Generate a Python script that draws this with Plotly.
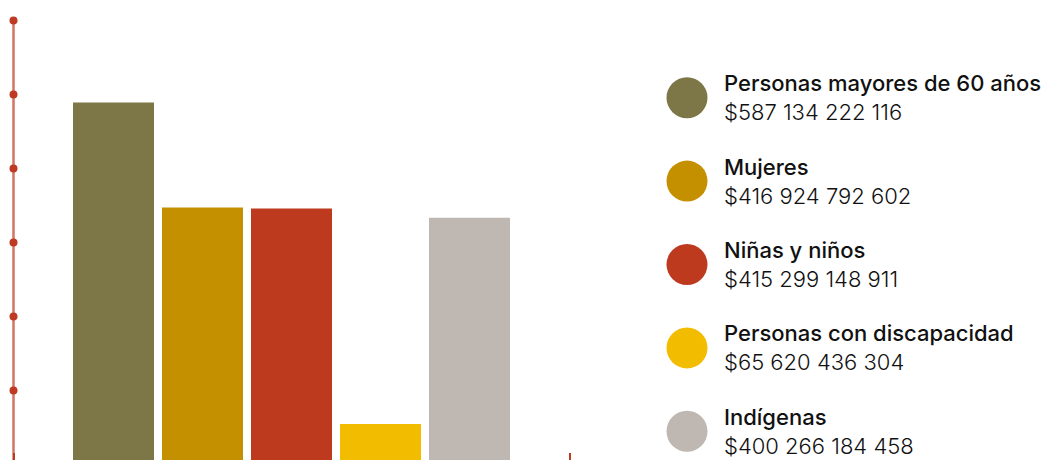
import plotly.graph_objects as go

# ---- data ----
categories = ["Personas mayores de 60 años", "Mujeres", "Niñas y niños",
              "Personas con discapacidad", "Indígenas"]
values = [587134222116, 416924792602, 415299148911, 65620436304, 400266184458]
colors = ["#7d7647", "#c59000", "#bd3a1f", "#f2bc00", "#bfb7b1"]
axis_ticks = [120e9, 240e9, 360e9, 480e9, 600e9, 720e9]

W, H = 1045, 460
RED = "#be3a23"

n = len(categories)
pad = 0.6236
x_axis_pos = -0.5 - pad
x_end_pos = n - 0.5 + pad
unit_px = 89.0
plot_w_px = 627.0
x_left = x_axis_pos - 13.5 / unit_px
x_right = x_left + plot_w_px / unit_px

px_per_val = 74.0 / 120e9
zero_px = 464.5
y_bottom = (zero_px - H) / px_per_val
y_top = zero_px / px_per_val

fig = go.Figure()

fig.add_trace(go.Bar(
    x=list(range(n)), y=values, marker=dict(color=colors, line=dict(width=0)),
    width=81 / unit_px, showlegend=False, hoverinfo="skip",
    xaxis="x", yaxis="y"))

# vertical axis line
fig.add_trace(go.Scatter(
    x=[x_axis_pos, x_axis_pos], y=[0, axis_ticks[-1]], mode="lines",
    line=dict(color="rgba(190,58,35,0.7)", width=2.5),
    showlegend=False, hoverinfo="skip"))
fig.add_trace(go.Scatter(
    x=[x_axis_pos] * len(axis_ticks), y=axis_ticks, mode="markers",
    marker=dict(color=RED, size=8), cliponaxis=False,
    showlegend=False, hoverinfo="skip"))

# custom legend
leg_first, leg_step = 97.7, 83.4
leg_idx = list(range(n))
fig.add_trace(go.Scatter(
    x=[0] * n, y=leg_idx, mode="markers",
    marker=dict(color=colors, size=41), cliponaxis=False,
    showlegend=False, hoverinfo="skip", xaxis="x2", yaxis="y2"))

for i, (c, v) in enumerate(zip(categories, values)):
    val_txt = "$" + f"{v:,}".replace(",", " ")
    fig.add_annotation(
        x=35, y=i, xref="x2", yref="y2", xanchor="left", yanchor="middle",
        text=(f"<span style='font-weight:500'>{c}</span><br>"
              f"<span style='font-weight:300'>{val_txt}</span>"),
        showarrow=False, align="left",
        font=dict(family="Inter", size=22, color="#111111"))

fig.update_layout(
    width=W, height=H, margin=dict(l=0, r=0, t=0, b=0),
    paper_bgcolor="white", plot_bgcolor="white",
    bargap=0.09,
    xaxis=dict(domain=[0, plot_w_px / W], range=[x_left, x_right],
               showgrid=False, zeroline=False, showline=False,
               tickvals=[x_axis_pos, x_end_pos], ticks="inside", ticklen=7,
               tickwidth=2, tickcolor=RED, showticklabels=False, fixedrange=True),
    yaxis=dict(domain=[0, 1], range=[y_bottom, y_top], showgrid=False,
               zeroline=False, showline=False, showticklabels=False,
               ticks="", fixedrange=True),
    xaxis2=dict(domain=[plot_w_px / W, 1], range=[-60, W - plot_w_px - 60],
                anchor="y2", visible=False, fixedrange=True),
    yaxis2=dict(domain=[0, 1],
                range=[(H - leg_first) / leg_step, -leg_first / leg_step],
                anchor="x2", visible=False, fixedrange=True),
    showlegend=False,
)

fig.write_html("out.html", config={"displayModeBar": False},
               post_script="document.body.style.margin='0';")
